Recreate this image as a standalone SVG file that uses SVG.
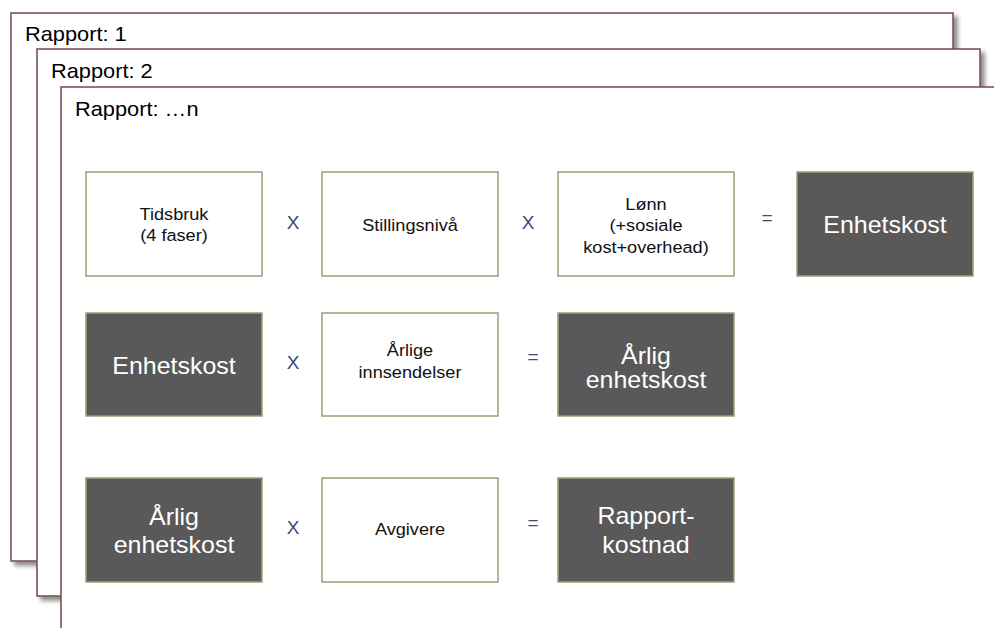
<svg xmlns="http://www.w3.org/2000/svg" width="994" height="628" viewBox="0 0 994 628">
<defs>
<filter id="sh" x="-5%" y="-5%" width="115%" height="115%">
<feDropShadow dx="4" dy="4" stdDeviation="2" flood-color="#000" flood-opacity="0.45"/>
</filter>
<style>
.sheet{fill:#fff;stroke:#7d5252;stroke-width:1.6}
.lbl{font-family:"Liberation Sans",Arial,sans-serif;font-size:20px;fill:#000}
.wb{fill:#fff;stroke:#a39b7b;stroke-width:1.5}
.db{fill:#595959;stroke:#a39b7b;stroke-width:1.5}
.st{font-family:"Liberation Sans",Arial,sans-serif;font-size:16.5px;fill:#111;text-anchor:middle}
.dt{font-family:"Liberation Sans",Arial,sans-serif;font-size:24px;fill:#fff;text-anchor:middle}
.op{font-family:"Liberation Sans",Arial,sans-serif;font-size:19px;fill:#3b4a7c;text-anchor:middle}
</style>
</defs>
<g id="sheet1"><rect class="sheet" x="11" y="13" width="942" height="548" filter="url(#sh)"/>
<text class="lbl" transform="translate(25 41) scale(1.09 1)">Rapport: 1</text></g>
<g id="sheet2"><rect class="sheet" x="37" y="49" width="943" height="547" filter="url(#sh)"/>
<text class="lbl" transform="translate(51 78) scale(1.09 1)">Rapport: 2</text></g>
<g id="sheet3"><rect class="sheet" x="61" y="87" width="960" height="600" filter="url(#sh)"/>
<text class="lbl" transform="translate(75 116) scale(1.09 1)">Rapport: …n</text></g>

<g id="tidsbruk"><rect class="wb" x="86" y="172" width="176" height="104"/>
<text class="st" transform="translate(174 220) scale(1.1 1)">Tidsbruk</text>
<text class="st" transform="translate(174 241) scale(1.1 1)">(4 faser)</text></g>
<g id="stillingsniva"><rect class="wb" x="322" y="172" width="176" height="104"/>
<text class="st" transform="translate(410 231) scale(1.1 1)">Stillingsnivå</text></g>
<g id="lonn"><rect class="wb" x="558" y="172" width="176" height="104"/>
<text class="st" transform="translate(646 210) scale(1.1 1)">Lønn</text>
<text class="st" transform="translate(646 231) scale(1.1 1)">(+sosiale</text>
<text class="st" transform="translate(646 253) scale(1.1 1)">kost+overhead)</text></g>
<g id="enhetskost1"><rect class="db" x="797" y="172" width="176" height="104"/>
<text class="dt" transform="translate(885 233) scale(1.04 1)">Enhetskost</text></g>

<g id="enhetskost2"><rect class="db" x="86" y="313" width="176" height="103"/>
<text class="dt" transform="translate(174 374) scale(1.04 1)">Enhetskost</text></g>
<g id="innsendelser"><rect class="wb" x="322" y="313" width="176" height="103"/>
<text class="st" transform="translate(410 356) scale(1.1 1)">Årlige</text>
<text class="st" transform="translate(410 378) scale(1.1 1)">innsendelser</text></g>
<g id="arlig1"><rect class="db" x="558" y="313" width="176" height="103"/>
<text class="dt" transform="translate(646 364) scale(1.04 1)">Årlig</text>
<text class="dt" transform="translate(646 388) scale(1.04 1)">enhetskost</text></g>

<g id="arlig2"><rect class="db" x="86" y="478" width="176" height="104"/>
<text class="dt" transform="translate(174 525) scale(1.04 1)">Årlig</text>
<text class="dt" transform="translate(174 553) scale(1.04 1)">enhetskost</text></g>
<g id="avgivere"><rect class="wb" x="322" y="478" width="176" height="104"/>
<text class="st" transform="translate(410 535) scale(1.1 1)">Avgivere</text></g>
<g id="rapportkostnad"><rect class="db" x="558" y="478" width="176" height="104"/>
<text class="dt" transform="translate(646 524) scale(1.04 1)">Rapport-</text>
<text class="dt" transform="translate(646 553) scale(1.04 1)">kostnad</text></g>

<g id="connectors">
<text class="op" x="293" y="229">X</text>
<text class="op" x="528" y="229">X</text>
<text class="op" x="767" y="224">=</text>
<text class="op" x="293" y="369">X</text>
<text class="op" x="533" y="363">=</text>
<text class="op" x="293" y="534">X</text>
<text class="op" x="533" y="529">=</text>
</g>
</svg>
